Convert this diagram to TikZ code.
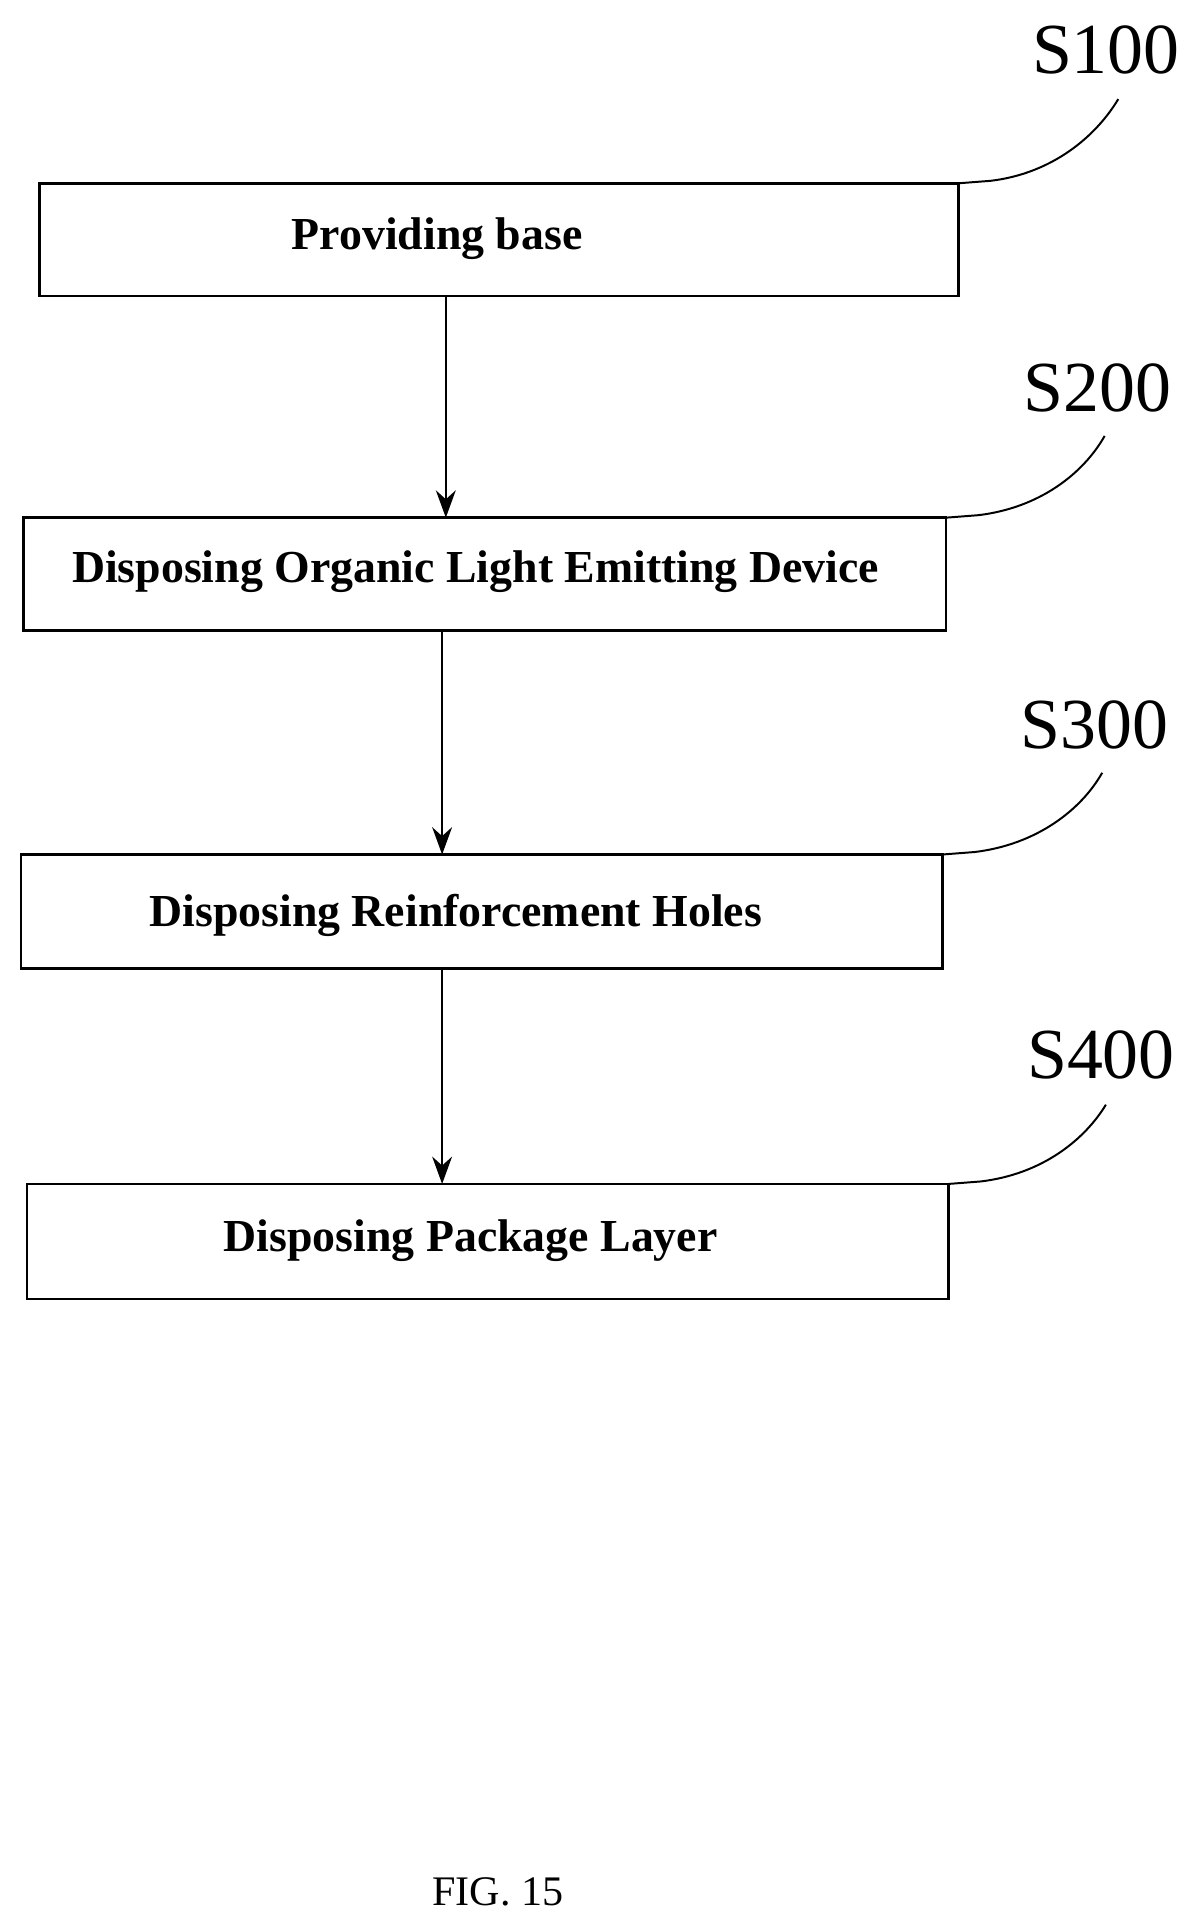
\documentclass[tikz,border=0pt]{standalone}
\usepackage{fontspec}
\setmainfont{Liberation Serif}
\usetikzlibrary{arrows.meta}
\begin{document}
\begin{tikzpicture}[x=0.5pt,y=-0.5pt,
  stepbox/.style={draw,line width=1pt,inner sep=0pt},
  steptext/.style={font=\fontsize{18.5}{22}\selectfont\bfseries},
  lab/.style={font=\fontsize{29}{34}\selectfont},
  arr/.style={line width=1pt,-{Stealth[length=11pt,width=8pt]}},
  lead/.style={line width=0.8pt}]
\useasboundingbox (0,0) rectangle (970,1552);
\draw[stepbox] (32,148) rectangle (774,239);
\node[steptext] (t1) at (353,193) {Providing base};
\draw[stepbox] (19,418) rectangle (764,509);
\node[steptext] (t2) at (384,462) {Disposing Organic Light Emitting Device};
\draw[stepbox] (17,690) rectangle (761,782);
\node[steptext] (t3) at (368,739) {Disposing Reinforcement Holes};
\draw[stepbox] (22,956) rectangle (766,1049);
\node[steptext] (t4) at (380,1002) {Disposing Package Layer};
\coordinate (a1) at (360,239); \coordinate (b1) at (360,418);
\coordinate (a2) at (357,509); \coordinate (b2) at (357,690);
\coordinate (a3) at (357,782); \coordinate (b3) at (357,956);
\draw[arr] (a1) -- (b1);
\draw[arr] (a2) -- (b2);
\draw[arr] (a3) -- (b3);
\node[lab] (s1) at (893,40) {S100};
\node[lab] (s2) at (886,313) {S200};
\node[lab] (s3) at (884,585) {S300};
\node[lab] (s4) at (889,852) {S400};
\coordinate (c1) at (774,148); \coordinate (d1) at (903,80);
\coordinate (c2) at (764,418); \coordinate (d2) at (892,352);
\coordinate (c3) at (761,690); \coordinate (d3) at (890,624);
\coordinate (c4) at (766,956); \coordinate (d4) at (893,892);
\draw[lead] (c1) -- (800,146) .. controls (850,140) and (885,110) .. (d1);
\draw[lead] (c2) -- (790,416) .. controls (840,410) and (875,382) .. (d2);
\draw[lead] (c3) -- (787,688) .. controls (837,682) and (873,654) .. (d3);
\draw[lead] (c4) -- (792,954) .. controls (842,948) and (876,920) .. (d4);
\node[font=\fontsize{17}{20}\selectfont] (fig) at (402,1528) {FIG. 15};
\end{tikzpicture}
\end{document}
